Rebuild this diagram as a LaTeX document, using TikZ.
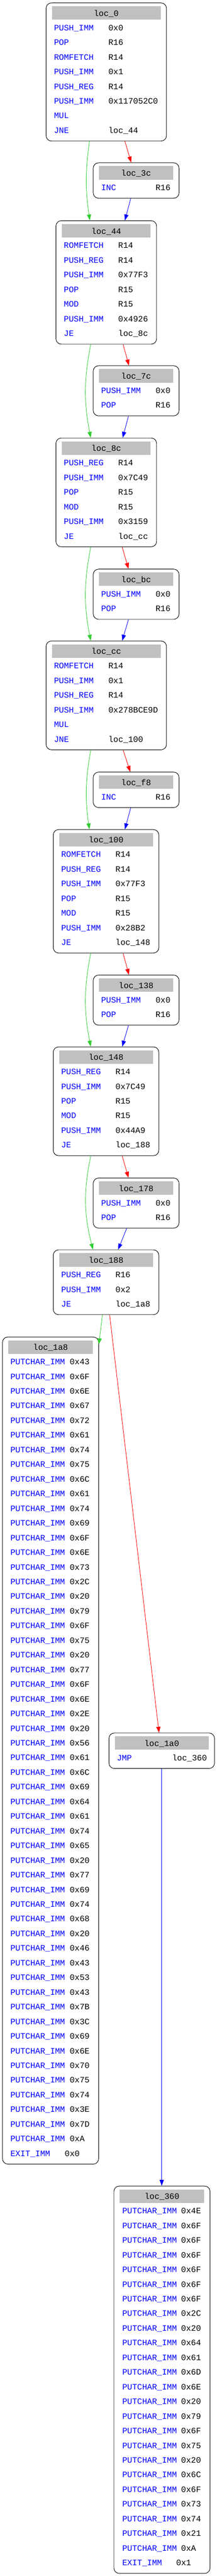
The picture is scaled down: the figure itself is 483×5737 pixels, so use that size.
\documentclass[tikz,border=0pt]{standalone}
\usepackage{fontspec}
\setmonofont{Liberation Mono}
\usetikzlibrary{calc}
\usetikzlibrary{arrows.meta}

\definecolor{hdrgray}{HTML}{C0C0C0}
\definecolor{jgreen}{HTML}{32CD32}

\tikzset{
	blk/.style={draw, rounded corners=9pt, line width=0.8pt, inner sep=0pt, anchor=north west},
	hdr/.style={fill=hdrgray, inner sep=0pt, minimum height=22.5pt},
	ttl/.style={anchor=base, inner sep=0pt, font=\ttfamily\fontsize{13.8}{16}\selectfont},
	mnem/.style={anchor=base west, inner sep=0pt, text=blue, font=\ttfamily\fontsize{13.8}{16}\selectfont},
	oper/.style={anchor=base west, inner sep=0pt, font=\ttfamily\fontsize{13.8}{16}\selectfont},
	cfgedge/.style={line width=0.75pt, -{Triangle[length=10pt,width=7pt]}},
	taken/.style={cfgedge, jgreen},
	fall/.style={cfgedge, red},
	jump/.style={cfgedge, blue}
}

% block: name, left, right, top, rows, title (units are px)
\newcommand\cfgblock[6]{%
	\pgfmathsetmacro\blkw{(#3-#2)*0.75}%
	\pgfmathsetmacro\blkh{(79+(#5-1)*32.65)*0.75}%
	\pgfmathsetmacro\hdrw{(#3-#2-26)*0.75}%
	\node[blk, minimum width=\blkw pt, minimum height=\blkh pt] (#1) at (#2,#4) {};
	\node[hdr, minimum width=\hdrw pt] (#1-h) at ($(#1.north)+(0,23)$) {};
	\node[ttl] (#1-t) at ($(#1-h.center)+(0,7)$) {#6};
}
% instructions: block, operand offset, list
\newcommand\insns[3]{%
	\foreach [count=\i] \m/\o in {#3}{%
		\node[mnem] (#1-m\i) at ($(#1.north west)+(18,{62+(\i-1)*32.65})$) {\m};
		\ifx\o\empty\else
		\node[oper] (#1-o\i) at ($(#1.north west)+(#2,{62+(\i-1)*32.65})$) {\o};
		\fi
	}%
}

\begin{document}
\begin{tikzpicture}[x=0.75pt, y=-0.75pt]
	\useasboundingbox (0,0) rectangle (483,5737);

	\cfgblock{b0}{102}{370}{6}{8}{loc\_0}
	\insns{b0}{139}{PUSH\_IMM/0x0, POP/R16, ROMFETCH/R14, PUSH\_IMM/0x1, PUSH\_REG/R14, PUSH\_IMM/0x117052C0, MUL/, JNE/loc\_44}
	\cfgblock{b3c}{207}{398}{362}{1}{loc\_3c}
	\insns{b3c}{139}{INC/R16}

	\cfgblock{b44}{124}{348}{491}{7}{loc\_44}
	\insns{b44}{139}{ROMFETCH/R14, PUSH\_REG/R14, PUSH\_IMM/0x77F3, POP/R15, MOD/R15, PUSH\_IMM/0x4926, JE/loc\_8c}
	\cfgblock{b7c}{207}{398}{814}{2}{loc\_7c}
	\insns{b7c}{139}{PUSH\_IMM/0x0, POP/R16}

	\cfgblock{b8c}{124}{348}{975}{6}{loc\_8c}
	\insns{b8c}{139}{PUSH\_REG/R14, PUSH\_IMM/0x7C49, POP/R15, MOD/R15, PUSH\_IMM/0x3159, JE/loc\_cc}
	\cfgblock{bbc}{207}{398}{1267}{2}{loc\_bc}
	\insns{bbc}{139}{PUSH\_IMM/0x0, POP/R16}

	\cfgblock{bcc}{102}{370}{1427}{6}{loc\_cc}
	\insns{bcc}{139}{ROMFETCH/R14, PUSH\_IMM/0x1, PUSH\_REG/R14, PUSH\_IMM/0x278BCE9D, MUL/, JNE/loc\_100}
	\cfgblock{bf8}{207}{398}{1719}{1}{loc\_f8}
	\insns{bf8}{139}{INC/R16}

	\cfgblock{b100}{118}{353}{1847}{7}{loc\_100}
	\insns{b100}{139}{ROMFETCH/R14, PUSH\_REG/R14, PUSH\_IMM/0x77F3, POP/R15, MOD/R15, PUSH\_IMM/0x28B2, JE/loc\_148}
	\cfgblock{b138}{207}{398}{2171}{2}{loc\_138}
	\insns{b138}{139}{PUSH\_IMM/0x0, POP/R16}

	\cfgblock{b148}{118}{353}{2331}{6}{loc\_148}
	\insns{b148}{139}{PUSH\_REG/R14, PUSH\_IMM/0x7C49, POP/R15, MOD/R15, PUSH\_IMM/0x44A9, JE/loc\_188}
	\cfgblock{b178}{207}{398}{2623}{2}{loc\_178}
	\insns{b178}{139}{PUSH\_IMM/0x0, POP/R16}

	\cfgblock{b188}{118}{353}{2783}{3}{loc\_188}
	\insns{b188}{139}{PUSH\_REG/R16, PUSH\_IMM/0x2, JE/loc\_1a8}

	% win message
	\cfgblock{b1a8}{5}{219}{2977}{55}{loc\_1a8}
	\foreach [count=\i] \c in {43,6F,6E,67,72,61,74,75,6C,61,74,69,6F,6E,73,2C,20,79,6F,75,20,77,6F,6E,2E,20,56,61,6C,69,64,61,74,65,20,77,69,74,68,20,46,43,53,43,7B,3C,69,6E,70,75,74,3E,7D,A}{
		\node[mnem] (b1a8-m\i) at ($(b1a8.north west)+(18,{62+(\i-1)*32.65})$) {PUTCHAR\_IMM};
		\node[oper] (b1a8-o\i) at ($(b1a8.north west)+(150,{62+(\i-1)*32.65})$) {0x\c};
	}
	\node[mnem] (b1a8-m55) at ($(b1a8.north west)+(18,{62+54*32.65})$) {EXIT\_IMM};
	\node[oper] (b1a8-o55) at ($(b1a8.north west)+(139,{62+54*32.65})$) {0x0};

	\cfgblock{b1a0}{242}{477}{3859}{1}{loc\_1a0}
	\insns{b1a0}{141}{JMP/loc\_360}

	% lose message
	\cfgblock{b360}{253}{467}{4868}{25}{loc\_360}
	\foreach [count=\i] \c in {4E,6F,6F,6F,6F,6F,6F,2C,20,64,61,6D,6E,20,79,6F,75,20,6C,6F,73,74,21,A}{
		\node[mnem] (b360-m\i) at ($(b360.north west)+(19,{62+(\i-1)*32.65})$) {PUTCHAR\_IMM};
		\node[oper] (b360-o\i) at ($(b360.north west)+(150,{62+(\i-1)*32.65})$) {0x\c};
	}
	\node[mnem] (b360-m25) at ($(b360.north west)+(19,{62+24*32.65})$) {EXIT\_IMM};
	\node[oper] (b360-o25) at ($(b360.north west)+(139,{62+24*32.65})$) {0x1};

	% branches taken
	\draw[taken] (199,0 |- b0.south) to[bend right=8] (200,0 |- b44.north);
	\draw[taken] (202,0 |- b44.south) to[bend right=11] (202,0 |- b8c.north);
	\draw[taken] (202,0 |- b8c.south) to[bend right=11] (202,0 |- bcc.north);
	\draw[taken] (202,0 |- bcc.south) to[bend right=9] (199,0 |- b100.north);
	\draw[taken] (202,0 |- b100.south) to[bend right=11] (202,0 |- b148.north);
	\draw[taken] (202,0 |- b148.south) to[bend right=13] (207,0 |- b188.north);
	\draw[taken] (228,0 |- b188.south) -- (b1a8.east |- 0,2994);
	% fall through
	\draw[fall] (278,0 |- b0.south) -- (292,0 |- b3c.north);
	\draw[fall] (274,0 |- b44.south) -- (287,0 |- b7c.north);
	\draw[fall] (272,0 |- b8c.south) -- (286,0 |- bbc.north);
	\draw[fall] (274,0 |- bcc.south) -- (290,0 |- bf8.north);
	\draw[fall] (274,0 |- b100.south) -- (287,0 |- b138.north);
	\draw[fall] (272,0 |- b148.south) -- (286,0 |- b178.north);
	\draw[fall] (244,0 |- b188.south) -- (354,0 |- b1a0.north);
	% unconditional
	\draw[jump] (291,0 |- b3c.south) -- (278,0 |- b44.north);
	\draw[jump] (286,0 |- b7c.south) -- (273,0 |- b8c.north);
	\draw[jump] (286,0 |- bbc.south) -- (272,0 |- bcc.north);
	\draw[jump] (291,0 |- bf8.south) -- (278,0 |- b100.north);
	\draw[jump] (286,0 |- b138.south) -- (272,0 |- b148.north);
	\draw[jump] (282,0 |- b178.south) -- (263,0 |- b188.north);
	\draw[jump] (360,0 |- b1a0.south) -- (360,0 |- b360.north);
\end{tikzpicture}
\end{document}
